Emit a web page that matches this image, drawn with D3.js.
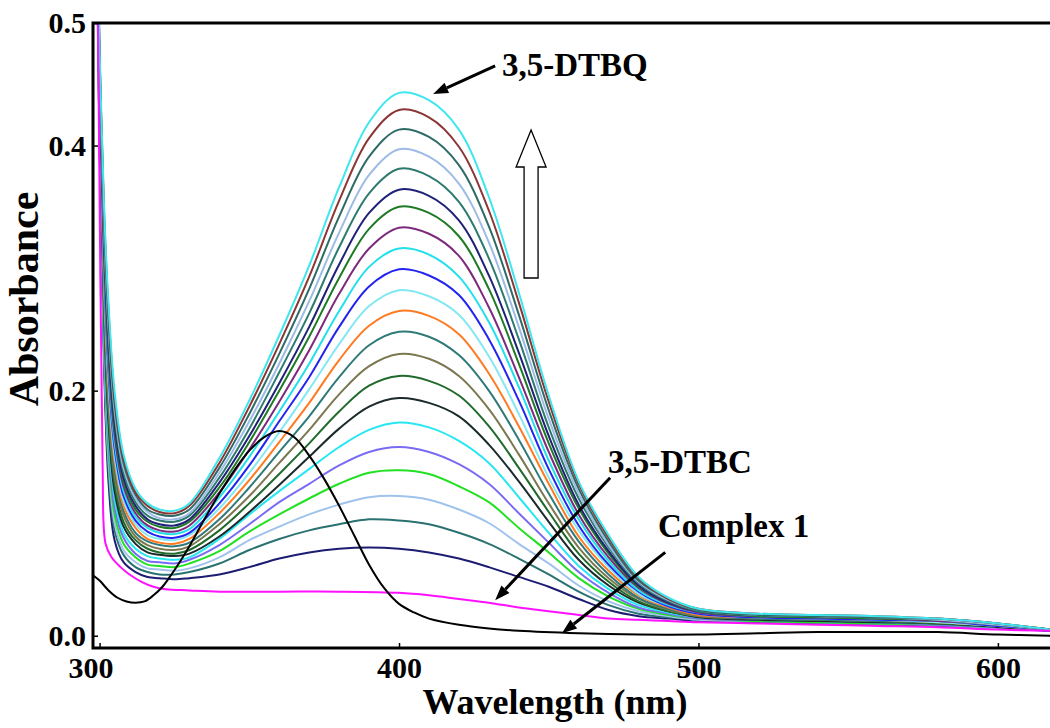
<!DOCTYPE html>
<html><head><meta charset="utf-8">
<script src="https://cdn.jsdelivr.net/npm/d3@7"></script>
<style>
html,body{margin:0;padding:0;background:#fff;}
svg{display:block;}
text{font-family:"Liberation Serif","Times New Roman",serif;font-weight:bold;fill:#000;}
</style></head><body>
<svg id="chart" width="1050" height="728"></svg>
<script>
// Wavelength grid (nm) shared by the 22 time-resolved scans
const wavelength = [299,300,301.5,303,305,308,312,316,320,325,330,340,350,360,370,380,390,400,410,420,430,440,450,460,470,480,490,500,520,540,560,580,600,618];

// Absorbance scans, final (3,5-DTBQ) first, earliest last
const scan01 = [0.620,0.480,0.350,0.270,0.200,0.148,0.120,0.108,0.103,0.102,0.108,0.145,0.192,0.245,0.302,0.366,0.419,0.443,0.437,0.413,0.358,0.280,0.196,0.126,0.082,0.048,0.031,0.022,0.018,0.017,0.016,0.014,0.010,0.005];
const scan02 = [0.618,0.477,0.345,0.264,0.195,0.145,0.117,0.106,0.101,0.100,0.106,0.141,0.187,0.238,0.293,0.355,0.406,0.429,0.423,0.399,0.347,0.272,0.191,0.124,0.080,0.047,0.030,0.022,0.018,0.017,0.016,0.014,0.010,0.005];
const scan03 = [0.617,0.474,0.340,0.258,0.190,0.141,0.115,0.103,0.099,0.098,0.103,0.137,0.181,0.230,0.283,0.342,0.391,0.413,0.407,0.384,0.334,0.262,0.184,0.120,0.077,0.045,0.030,0.021,0.017,0.016,0.015,0.014,0.010,0.005];
const scan04 = [0.615,0.470,0.334,0.252,0.185,0.137,0.112,0.101,0.096,0.095,0.100,0.133,0.175,0.222,0.273,0.329,0.376,0.397,0.391,0.369,0.321,0.252,0.177,0.116,0.074,0.044,0.029,0.021,0.017,0.016,0.015,0.013,0.009,0.005];
const scan05 = [0.613,0.467,0.328,0.246,0.180,0.133,0.109,0.098,0.094,0.093,0.098,0.129,0.169,0.215,0.263,0.317,0.361,0.381,0.375,0.354,0.308,0.242,0.170,0.112,0.072,0.043,0.028,0.020,0.017,0.016,0.015,0.013,0.009,0.005];
const scan06 = [0.612,0.463,0.322,0.239,0.174,0.129,0.106,0.095,0.091,0.090,0.095,0.125,0.163,0.206,0.252,0.303,0.345,0.364,0.359,0.339,0.294,0.231,0.163,0.107,0.069,0.041,0.027,0.020,0.017,0.016,0.015,0.013,0.009,0.005];
const scan07 = [0.610,0.460,0.318,0.234,0.170,0.126,0.103,0.093,0.089,0.088,0.093,0.121,0.158,0.200,0.244,0.292,0.332,0.350,0.345,0.326,0.283,0.222,0.157,0.104,0.067,0.040,0.027,0.020,0.016,0.015,0.014,0.013,0.009,0.005];
const scan08 = [0.608,0.456,0.312,0.227,0.164,0.122,0.100,0.090,0.086,0.085,0.090,0.117,0.152,0.191,0.233,0.279,0.316,0.333,0.328,0.310,0.268,0.211,0.150,0.099,0.064,0.039,0.026,0.019,0.016,0.015,0.014,0.012,0.009,0.005];
const scan09 = [0.606,0.453,0.306,0.221,0.158,0.118,0.097,0.088,0.084,0.083,0.087,0.113,0.146,0.183,0.222,0.265,0.301,0.316,0.311,0.293,0.256,0.203,0.143,0.095,0.061,0.037,0.025,0.019,0.016,0.015,0.014,0.012,0.009,0.005];
const scan10 = [0.605,0.449,0.300,0.214,0.153,0.114,0.094,0.085,0.081,0.080,0.084,0.108,0.139,0.175,0.211,0.252,0.285,0.299,0.294,0.278,0.242,0.192,0.136,0.090,0.058,0.036,0.024,0.018,0.015,0.014,0.013,0.012,0.008,0.005];
const scan11 = [0.603,0.445,0.294,0.207,0.147,0.110,0.091,0.082,0.079,0.078,0.082,0.104,0.133,0.166,0.201,0.238,0.269,0.282,0.277,0.262,0.228,0.181,0.129,0.086,0.056,0.034,0.024,0.018,0.015,0.014,0.013,0.011,0.008,0.005];
const scan12 = [0.601,0.442,0.288,0.201,0.142,0.106,0.088,0.079,0.076,0.075,0.079,0.100,0.127,0.158,0.190,0.225,0.253,0.265,0.261,0.246,0.214,0.171,0.124,0.081,0.053,0.033,0.023,0.017,0.015,0.014,0.013,0.011,0.008,0.005];
const scan13 = [0.599,0.438,0.282,0.194,0.136,0.102,0.084,0.077,0.074,0.073,0.076,0.095,0.121,0.150,0.179,0.211,0.237,0.248,0.244,0.229,0.200,0.160,0.116,0.077,0.050,0.031,0.022,0.017,0.014,0.013,0.012,0.011,0.008,0.004];
const scan14 = [0.597,0.434,0.276,0.187,0.130,0.098,0.081,0.074,0.071,0.070,0.073,0.091,0.114,0.141,0.168,0.197,0.220,0.230,0.226,0.212,0.185,0.148,0.108,0.072,0.047,0.030,0.021,0.016,0.014,0.013,0.012,0.011,0.008,0.004];
const scan15 = [0.595,0.430,0.269,0.180,0.124,0.093,0.078,0.071,0.068,0.067,0.070,0.086,0.108,0.132,0.157,0.183,0.204,0.212,0.208,0.196,0.171,0.137,0.101,0.067,0.044,0.028,0.020,0.016,0.014,0.013,0.012,0.010,0.008,0.004];
const scan16 = [0.593,0.427,0.263,0.173,0.118,0.089,0.075,0.068,0.066,0.065,0.067,0.081,0.101,0.123,0.146,0.169,0.187,0.194,0.190,0.179,0.156,0.126,0.093,0.062,0.041,0.027,0.020,0.015,0.013,0.012,0.011,0.010,0.007,0.004];
const scan17 = [0.591,0.422,0.256,0.165,0.112,0.084,0.071,0.065,0.063,0.062,0.064,0.079,0.099,0.118,0.136,0.154,0.168,0.174,0.170,0.159,0.141,0.113,0.084,0.057,0.038,0.025,0.019,0.015,0.013,0.012,0.011,0.010,0.007,0.004];
const scan18 = [0.589,0.418,0.249,0.157,0.105,0.080,0.067,0.061,0.060,0.059,0.062,0.074,0.091,0.109,0.124,0.139,0.150,0.154,0.150,0.140,0.124,0.100,0.076,0.052,0.035,0.023,0.018,0.014,0.013,0.012,0.011,0.009,0.007,0.004];
const scan19 = [0.587,0.414,0.242,0.150,0.099,0.075,0.064,0.058,0.057,0.056,0.059,0.069,0.085,0.099,0.112,0.124,0.133,0.135,0.132,0.122,0.109,0.088,0.068,0.047,0.032,0.022,0.017,0.014,0.012,0.011,0.010,0.009,0.007,0.004];
const scan20 = [0.585,0.409,0.235,0.142,0.092,0.070,0.060,0.055,0.054,0.053,0.055,0.064,0.078,0.089,0.099,0.107,0.113,0.114,0.111,0.103,0.092,0.075,0.059,0.041,0.028,0.020,0.016,0.013,0.012,0.011,0.010,0.009,0.006,0.004];
const scan21 = [0.582,0.405,0.228,0.134,0.086,0.066,0.056,0.052,0.050,0.050,0.052,0.059,0.070,0.079,0.086,0.091,0.095,0.094,0.091,0.084,0.075,0.063,0.050,0.036,0.025,0.018,0.015,0.013,0.011,0.010,0.009,0.008,0.006,0.004];
const scan22 = [0.580,0.400,0.220,0.125,0.078,0.060,0.052,0.048,0.047,0.046,0.047,0.050,0.056,0.063,0.068,0.071,0.072,0.071,0.068,0.063,0.056,0.048,0.040,0.030,0.021,0.016,0.014,0.012,0.011,0.010,0.009,0.008,0.006,0.004];

const scanColors = ["#3ee6ee","#8b3535","#2f6b66","#9dbbe6","#2d7a6e","#202078","#1e7a24","#7d2a7d","#20e0ea","#2424f0","#84e8f2","#ff7a20","#2f7a78","#7b7850","#1f6a2c","#1b2b2b","#28e6f2","#7a6cf2","#22e022","#9fc3ec","#2a7272","#1c1c72"];

// 3,5-DTBC (magenta)
const dtbcWavelength = [299,300,301,302,304,307,310,314,318,322,330,340,360,380,400,410,420,430,440,450,460,470,480,490,500,520,540,560,580,600,618];
const dtbcValues = [0.620,0.360,0.140,0.075,0.064,0.056,0.050,0.044,0.040,0.038,0.037,0.036,0.036,0.036,0.035,0.033,0.030,0.027,0.023,0.020,0.017,0.014,0.013,0.012,0.011,0.010,0.009,0.008,0.007,0.005,0.004];

// Complex 1 (black)
const complexWavelength = [298,300,303,306,309,312,315,318,321,324,327,330,335,340,345,350,355,360,365,370,375,380,385,390,395,400,405,410,420,430,440,460,480,500,520,540,560,580,600,618];
const complexValues = [0.049,0.045,0.037,0.031,0.028,0.027,0.028,0.033,0.040,0.050,0.061,0.073,0.095,0.116,0.135,0.151,0.162,0.167,0.162,0.147,0.128,0.106,0.082,0.058,0.039,0.026,0.019,0.014,0.009,0.006,0.004,0.002,0.001,0.001,0.002,0.003,0.003,0.003,0.001,0.000];

const xTickValues = [300,400,500,600];
const yTickValues = [0.0,0.2,0.4,0.5];

const scans = [scan01,scan02,scan03,scan04,scan05,scan06,scan07,scan08,scan09,scan10,scan11,scan12,scan13,scan14,scan15,scan16,scan17,scan18,scan19,scan20,scan21,scan22];

const svg = d3.select("#chart");
const mLeft = 93, mRight = 1053, mTop = 23, mBottom = 648;
const x = d3.scaleLinear().domain([297.8, 618.4]).range([mLeft, mRight]);
const y = d3.scaleLinear().domain([-0.01, 0.5]).range([mBottom, mTop]);

svg.append("defs").append("clipPath").attr("id","plotclip")
  .append("rect").attr("x",mLeft).attr("y",mTop).attr("width",mRight-mLeft).attr("height",mBottom-mTop);

const plot = svg.append("g").attr("clip-path","url(#plotclip)");
const line = d3.line().curve(d3.curveCatmullRom.alpha(0.5));

for (let i = scans.length - 1; i >= 0; i--) {
  const pts = wavelength.map((w, k) => [x(w), y(scans[i][k])]);
  plot.append("path").attr("d", line(pts)).attr("fill","none")
    .attr("stroke", scanColors[i]).attr("stroke-width", 2).attr("stroke-linejoin","round");
}
plot.append("path").attr("d", line(dtbcWavelength.map((w,k)=>[x(w), y(dtbcValues[k])])))
  .attr("fill","none").attr("stroke","#ff10ff").attr("stroke-width",2);
plot.append("path").attr("d", line(complexWavelength.map((w,k)=>[x(w), y(complexValues[k])])))
  .attr("fill","none").attr("stroke","#000").attr("stroke-width",2);

// Axes
const xAxis = d3.axisBottom(x).tickValues(xTickValues).tickSizeInner(-5).tickSizeOuter(0).tickPadding(9).tickFormat(d3.format("d"));
const gx = svg.append("g").attr("transform",`translate(0,${mBottom})`).call(xAxis);
gx.select(".domain").remove();
gx.selectAll(".tick line").attr("stroke","#000").attr("stroke-width",1.5);
gx.selectAll(".tick text").style("font-size","30px").style("font-family",'"Liberation Serif","Times New Roman",serif').style("font-weight","bold").attr("fill","#000")
  .attr("dx", d => d === 300 ? -9 : 0);

const yAxis = d3.axisLeft(y).tickValues(yTickValues).tickSizeInner(-5).tickSizeOuter(0).tickPadding(7).tickFormat(d3.format(".1f"));
const gy = svg.append("g").attr("transform",`translate(${mLeft},0)`).call(yAxis);
gy.select(".domain").remove();
gy.selectAll(".tick line").attr("stroke","#000").attr("stroke-width",1.5);
gy.selectAll(".tick text").style("font-size","30px").style("font-family",'"Liberation Serif","Times New Roman",serif').style("font-weight","bold").attr("fill","#000");

// Frame
svg.append("rect").attr("x",mLeft).attr("y",mTop).attr("width",mRight-mLeft).attr("height",mBottom-mTop)
  .attr("fill","none").attr("stroke","#000").attr("stroke-width",3);

// Axis titles
svg.append("text").attr("x",555).attr("y",714).attr("text-anchor","middle").style("font-size","36px").text("Wavelength (nm)");
svg.append("text").attr("transform","translate(38,299) rotate(-90)").attr("text-anchor","middle").style("font-size","42px").text("Absorbance");

// Annotations (anchored in data space)
function arrow(w1, a1, w2, a2) {
  const x1 = x(w1), y1 = y(a1), x2 = x(w2), y2 = y(a2);
  const ang = Math.atan2(y2 - y1, x2 - x1);
  const hl = 15, hw = 5.5;
  const bx = x2 - hl * Math.cos(ang), by = y2 - hl * Math.sin(ang);
  svg.append("line").attr("x1",x1).attr("y1",y1).attr("x2",bx).attr("y2",by)
    .attr("stroke","#000").attr("stroke-width",3);
  const px = -Math.sin(ang) * hw, py = Math.cos(ang) * hw;
  svg.append("polygon").attr("points",`${x2},${y2} ${bx+px},${by+py} ${bx-px},${by-py}`).attr("fill","#000");
}
arrow(432.1, 0.465, 411.4, 0.442);
arrow(470.5, 0.129, 432.1, 0.029);
arrow(488.9, 0.068, 454.4, 0.002);

svg.append("text").attr("x", x(434.4)).attr("y", y(0.457)).style("font-size","33px").text("3,5-DTBQ");
svg.append("text").attr("x", x(469.8)).attr("y", y(0.133)).style("font-size","33px").text("3,5-DTBC");
svg.append("text").attr("x", x(486.5)).attr("y", y(0.0805)).style("font-size","33px").text("Complex 1");

// Hollow "increase" arrow
const tx = x(444.1), ty = y(0.4127), by2 = y(0.2919);
const headH = 37, headW = 15, shaftW = 7;
svg.append("polygon")
  .attr("points", [[tx,ty],[tx+headW,ty+headH],[tx+shaftW,ty+headH],[tx+shaftW,by2],[tx-shaftW,by2],[tx-shaftW,ty+headH],[tx-headW,ty+headH]].map(p=>p.join(",")).join(" "))
  .attr("fill","#fff").attr("stroke","#000").attr("stroke-width",1.3);
</script>
</body></html>
